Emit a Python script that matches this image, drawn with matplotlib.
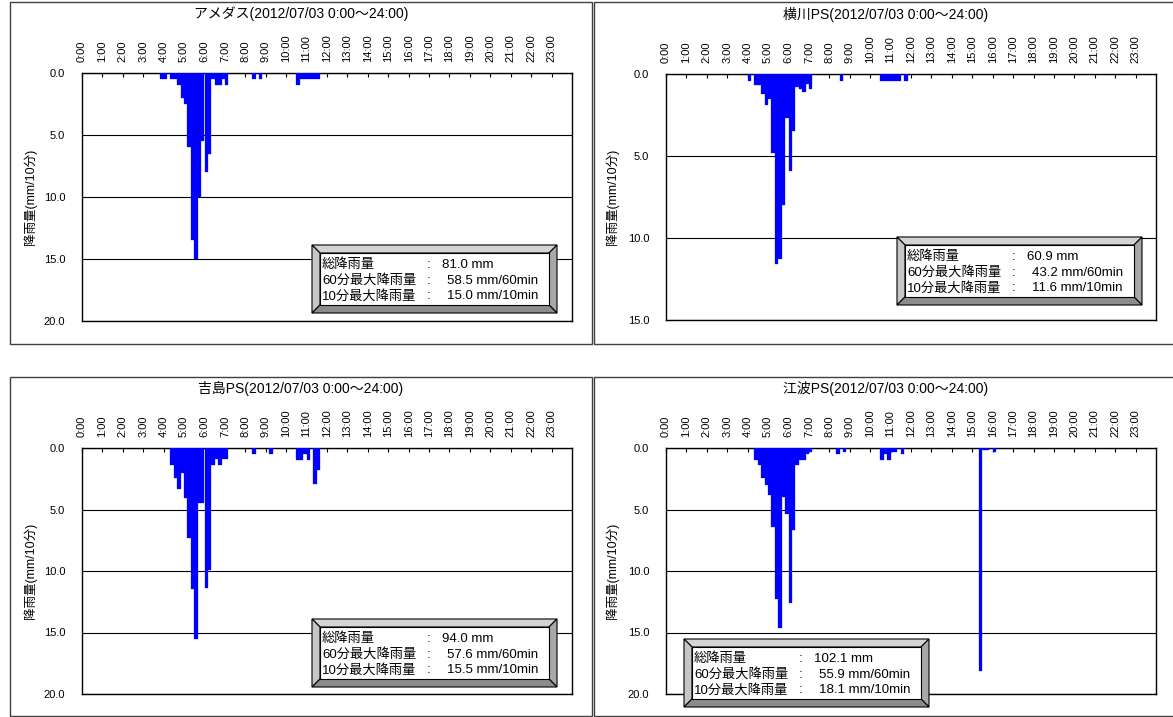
import matplotlib
matplotlib.use('Agg')
import matplotlib.pyplot as plt
from matplotlib.patches import Polygon, Rectangle

plt.rcParams['font.family'] = ['Liberation Sans', 'Noto Sans CJK JP', 'DejaVu Sans']

# 10-minute rainfall (mm), bar start time
amedas_t = ['3:50', '4:00', '4:20', '4:30', '4:40', '4:50', '5:00', '5:10', '5:20', '5:30',
            '5:40', '5:50', '6:00', '6:10', '6:20', '6:30', '6:40', '6:50', '7:00',
            '8:20', '8:40', '10:30', '10:40', '10:50', '11:00', '11:10', '11:20', '11:30']
amedas_mm = [0.5, 0.5, 0.5, 0.5, 1.0, 2.0, 2.5, 6.0, 13.5, 15.0,
             10.0, 5.5, 8.0, 6.5, 0.5, 1.0, 1.0, 0.5, 1.0,
             0.5, 0.5, 1.0, 0.5, 0.5, 0.5, 0.5, 0.5, 0.5]

yokokawa_t = ['4:00', '4:20', '4:30', '4:40', '4:50', '5:00', '5:10', '5:20', '5:30', '5:40',
              '5:50', '6:00', '6:10', '6:20', '6:30', '6:40', '6:50', '7:00',
              '8:30', '10:30', '10:40', '10:50', '11:00', '11:10', '11:20', '11:40']
yokokawa_mm = [0.4, 0.7, 0.7, 1.2, 1.9, 1.5, 4.8, 11.6, 11.3, 8.0,
               2.7, 5.9, 3.5, 0.8, 0.9, 1.1, 0.6, 0.9,
               0.4, 0.4, 0.4, 0.4, 0.4, 0.4, 0.4, 0.4]

yoshijima_t = ['4:20', '4:30', '4:40', '4:50', '5:00', '5:10', '5:20', '5:30', '5:40', '5:50',
               '6:00', '6:10', '6:20', '6:30', '6:40', '6:50', '7:00',
               '8:20', '9:10', '10:30', '10:40', '10:50', '11:00', '11:20', '11:30']
yoshijima_mm = [1.4, 2.4, 3.3, 2.0, 4.1, 7.3, 11.5, 15.5, 4.5, 4.5,
                11.4, 9.9, 1.4, 0.9, 1.4, 0.9, 0.9,
                0.5, 0.5, 1.0, 1.0, 0.5, 1.0, 2.9, 1.8]

eba_t = ['4:20', '4:30', '4:40', '4:50', '5:00', '5:10', '5:20', '5:30', '5:40', '5:50',
         '6:00', '6:10', '6:20', '6:30', '6:40', '6:50', '7:00',
         '8:20', '8:40', '10:30', '10:40', '10:50', '11:00', '11:10', '11:30',
         '15:20', '15:30', '15:40', '16:00']
eba_mm = [1.0, 1.4, 2.4, 3.0, 3.8, 6.4, 12.3, 14.6, 4.0, 5.4,
          12.6, 6.7, 1.4, 1.0, 1.0, 0.5, 0.3,
          0.5, 0.3, 1.0, 0.5, 1.0, 0.3, 0.3, 0.5,
          18.1, 0.2, 0.2, 0.3]

stat_labels = ['総降雨量', '60分最大降雨量', '10分最大降雨量']
amedas_stats = ['81.0 mm', '58.5 mm/60min', '15.0 mm/10min']
yokokawa_stats = ['60.9 mm', '43.2 mm/60min', '11.6 mm/10min']
yoshijima_stats = ['94.0 mm', '57.6 mm/60min', '15.5 mm/10min']
eba_stats = ['102.1 mm', '55.9 mm/60min', '18.1 mm/10min']

hour_labels = ['%d:00' % h for h in range(24)]
period = '(2012/07/03 0:00～24:00)'

W, H = 1173, 717
fig = plt.figure(figsize=(W / 100, H / 100), dpi=100)

# overlay in pixel coords for frames / boxes
ov = fig.add_axes([0, 0, 1, 1], zorder=10)
ov.set_xlim(0, W)
ov.set_ylim(H, 0)
ov.axis('off')


def to_hours(times):
    out = []
    for t in times:
        h, m = t.split(':')
        out.append(int(h) + int(m) / 60)
    return out


def bevel_box(x0, y0, stats, w=245, h=68, b=8):
    x1, y1 = x0 + w, y0 + h
    parts = [
        ([(x0, y0), (x1, y0), (x1 - b, y0 + b), (x0 + b, y0 + b)], '#d4d4d4'),
        ([(x0, y0), (x0 + b, y0 + b), (x0 + b, y1 - b), (x0, y1)], '#c6c6c6'),
        ([(x1, y0), (x1, y1), (x1 - b, y1 - b), (x1 - b, y0 + b)], '#a8a8a8'),
        ([(x0, y1), (x1, y1), (x1 - b, y1 - b), (x0 + b, y1 - b)], '#8c8c8c'),
    ]
    for pts, c in parts:
        ov.add_patch(Polygon(pts, closed=True, facecolor=c, edgecolor='black', lw=0.8))
    ov.add_patch(Rectangle((x0 + b, y0 + b), w - 2 * b, h - 2 * b,
                           facecolor='white', edgecolor='black', lw=0.8))
    rows = [y0 + 20, y0 + 35.5, y0 + 51]
    for i, (lab, val) in enumerate(zip(stat_labels, stats)):
        ov.text(x0 + 10, rows[i], lab, fontsize=9.5, va='center', ha='left')
        ov.text(x0 + 115, rows[i], ':', fontsize=9.5, va='center', ha='left')
        ov.text(x0 + (130 if i == 0 else 135), rows[i], val, fontsize=9.5, va='center', ha='left')


def panel(rect, times, mm, ymax, name, stats, box_xy, frame, ylab_x):
    ax = fig.add_axes(rect)
    ax.bar(to_hours(times), mm, width=1 / 6, align='edge', color='#0000ff',
           edgecolor='#0000ff', linewidth=0.2, zorder=3)
    ax.set_xlim(0, 24)
    ax.set_ylim(ymax, 0)
    ax.set_xticks(range(24))
    ax.set_xticklabels(hour_labels, rotation=90, fontsize=8)
    ax.xaxis.tick_top()
    ax.tick_params(axis='x', direction='in', length=3, pad=8, width=0.8)
    ax.set_yticks(range(0, ymax + 1, 5))
    ax.set_yticklabels(['%.1f' % v for v in range(0, ymax + 1, 5)], fontsize=8)
    ax.tick_params(axis='y', length=0, pad=12)
    ax.yaxis.grid(True, color='black', linewidth=0.8)
    ax.set_axisbelow(True)
    for s in ax.spines.values():
        s.set_linewidth(1.0)
    fx0, fy0, fx1, fy1 = frame
    ov.add_patch(Rectangle((fx0, fy0), fx1 - fx0, fy1 - fy0, fill=False,
                           edgecolor='#404040', lw=1.0))
    # title centred on the visible part of the frame
    ov.text((fx0 + min(fx1, 1178)) / 2, fy0 + 12, name + period,
            fontsize=10, ha='center', va='center')
    fig.text(ylab_x / W, rect[1] + rect[3] / 2, '降雨量(mm/10分)', rotation=90,
             fontsize=9, ha='center', va='center')
    bevel_box(box_xy[0], box_xy[1], stats)
    return ax


pw = 490 / W
panel([82 / W, 1 - 321 / H, pw, 248 / H], amedas_t, amedas_mm, 20, 'アメダス',
      amedas_stats, (312, 245), (10, 2, 592, 344), 30)
panel([666 / W, 1 - 320 / H, pw, 246 / H], yokokawa_t, yokokawa_mm, 15, '横川PS',
      yokokawa_stats, (897, 237), (594, 2, 1185, 344), 612)
panel([82 / W, 1 - 694 / H, pw, 246 / H], yoshijima_t, yoshijima_mm, 20, '吉島PS',
      yoshijima_stats, (312, 619), (10, 377, 592, 716), 30)
panel([666 / W, 1 - 694 / H, pw, 246 / H], eba_t, eba_mm, 20, '江波PS',
      eba_stats, (684, 639), (594, 377, 1185, 716), 612)

fig.savefig('out.png', dpi=100)
